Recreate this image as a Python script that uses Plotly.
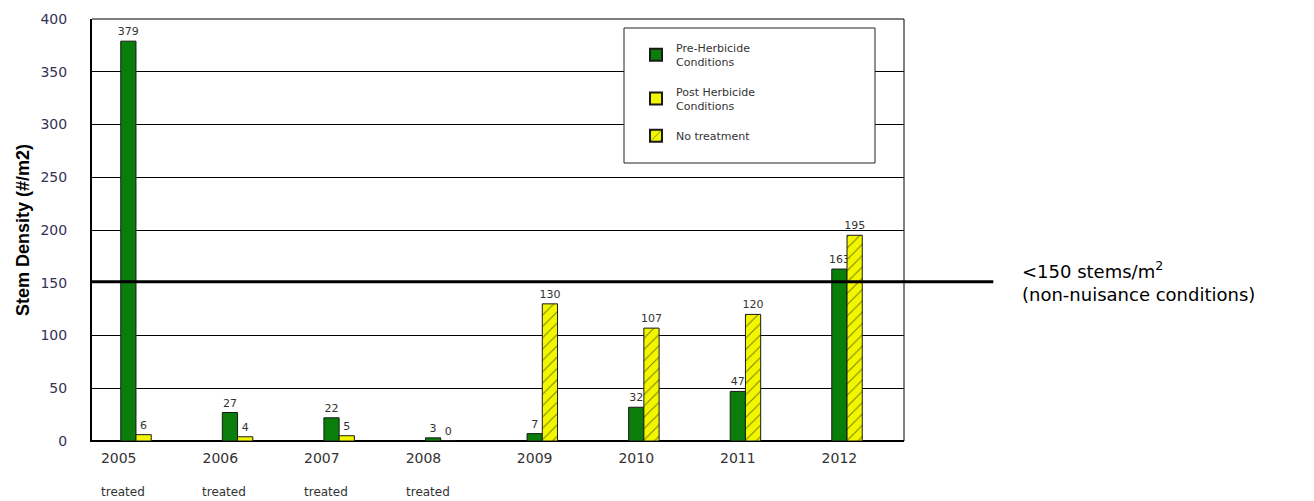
import plotly.graph_objects as go

years = ["2005", "2006", "2007", "2008", "2009", "2010", "2011", "2012"]
pre_herbicide = [379, 27, 22, 3, 7, 32, 47, 163]
post_herbicide = [6, 4, 5, 0, None, None, None, None]
no_treatment = [None, None, None, None, 130, 107, 120, 195]
status = ["treated", "treated", "treated", "treated", "", "", "", ""]
threshold = 151
y_ticks = [0, 50, 100, 150, 200, 250, 300, 350, 400]

xpos = list(range(len(years)))
W = 0.15
GREEN = "#0a7d0a"
YELLOW = "#f2f700"
FONT = "DejaVu Sans, Verdana, sans-serif"
LABEL_FONT = dict(family=FONT, size=11, color="#333333")

def txt(vals):
    return [("" if v is None else str(v)) for v in vals]

fig = go.Figure()
fig.add_trace(go.Bar(
    x=xpos, y=pre_herbicide, width=W, offset=-W,
    name="Pre-Herbicide<br>Conditions", legendgroup="a",
    marker=dict(color=GREEN, line=dict(color="#1a1a1a", width=1)),
    text=txt(pre_herbicide), textposition="outside", textfont=LABEL_FONT,
    constraintext="none", cliponaxis=False,
))
fig.add_trace(go.Bar(
    x=xpos, y=post_herbicide, width=W, offset=0,
    name="Post Herbicide<br>Conditions", legendgroup="b",
    marker=dict(color=YELLOW, line=dict(color="#1a1a1a", width=1)),
    text=txt(post_herbicide), textposition="outside", textfont=LABEL_FONT,
    constraintext="none", cliponaxis=False,
))
fig.add_trace(go.Bar(
    x=xpos, y=no_treatment, width=W, offset=0,
    name="No treatment", legendgroup="c",
    marker=dict(color=YELLOW, line=dict(color="#1a1a1a", width=1),
                pattern=dict(shape="/", fgcolor="black", bgcolor=YELLOW, size=8, solidity=0.12)),
    text=txt(no_treatment), textposition="outside", textfont=LABEL_FONT,
    constraintext="none", cliponaxis=False,
))

# threshold line extending beyond plot
fig.add_shape(type="line", xref="paper", yref="y", x0=0, x1=1.11, y0=threshold, y1=threshold,
              line=dict(color="black", width=3), layer="above")
fig.add_annotation(xref="paper", yref="y", x=1.143, y=threshold, xanchor="left", yanchor="middle",
                   align="left", showarrow=False,
                   text="&lt;150 stems/m<sup>2</sup><br>(non-nuisance conditions)",
                   font=dict(family=FONT, size=18, color="black"))

# legend box
fig.add_shape(type="rect", xref="paper", yref="paper",
              x0=(624 - 92) / 812, x1=(875 - 92) / 812,
              y0=(441 - 163) / 422, y1=(441 - 28) / 422,
              line=dict(color="#222222", width=1), fillcolor="white", layer="above")

for i, s in enumerate(status):
    if s:
        fig.add_annotation(xref="x", yref="paper", x=xpos[i] - 0.13, y=-0.121,
                           text=s, showarrow=False, yanchor="middle",
                           font=dict(family=FONT, size=12, color="#333333"))

tick_pos = [p - (0.17 if s else 0.075) for p, s in zip(xpos, status)]

fig.update_layout(
    width=1314, height=501,
    margin=dict(l=92, r=410, t=19, b=60),
    paper_bgcolor="white", plot_bgcolor="white",
    barmode="overlay",
    showlegend=True,
    legend=dict(x=(636 - 92) / 812, y=(441 - 34) / 422, xanchor="left", yanchor="top",
                bgcolor="rgba(0,0,0,0)", borderwidth=0,
                font=dict(family=FONT, size=11, color="#333333"),
                itemsizing="constant", tracegroupgap=12),
    font=dict(family=FONT, size=12, color="#333333"),
)
fig.update_xaxes(
    range=[-0.433, 7.561], tickvals=tick_pos, ticktext=years,
    showgrid=False, zeroline=False, showline=True, linecolor="black", linewidth=1,
    mirror=False, ticks="", ticklabelstandoff=4,
    tickfont=dict(family=FONT, size=14, color="#333333"),
)
fig.update_yaxes(
    range=[0, 400], tickvals=y_ticks, showgrid=True, gridcolor="black", gridwidth=1,
    zeroline=True, zerolinecolor="black", zerolinewidth=2,
    showline=True, linecolor="black", linewidth=2, mirror=False, ticks="",
    ticklabelstandoff=20,
    tickfont=dict(family=FONT, size=14, color="#333355"),
    title=dict(text="<b>Stem Density (#/m2)</b>", standoff=6,
               font=dict(family="Liberation Sans Narrow, Liberation Sans, Arial", size=18, color="black")),
)
# right and top border
fig.add_shape(type="line", xref="paper", yref="paper", x0=1, x1=1, y0=0, y1=1,
              line=dict(color="black", width=1))
fig.add_shape(type="line", xref="paper", yref="paper", x0=0, x1=1, y0=1, y1=1,
              line=dict(color="black", width=1))

fig.write_html("out.html")
